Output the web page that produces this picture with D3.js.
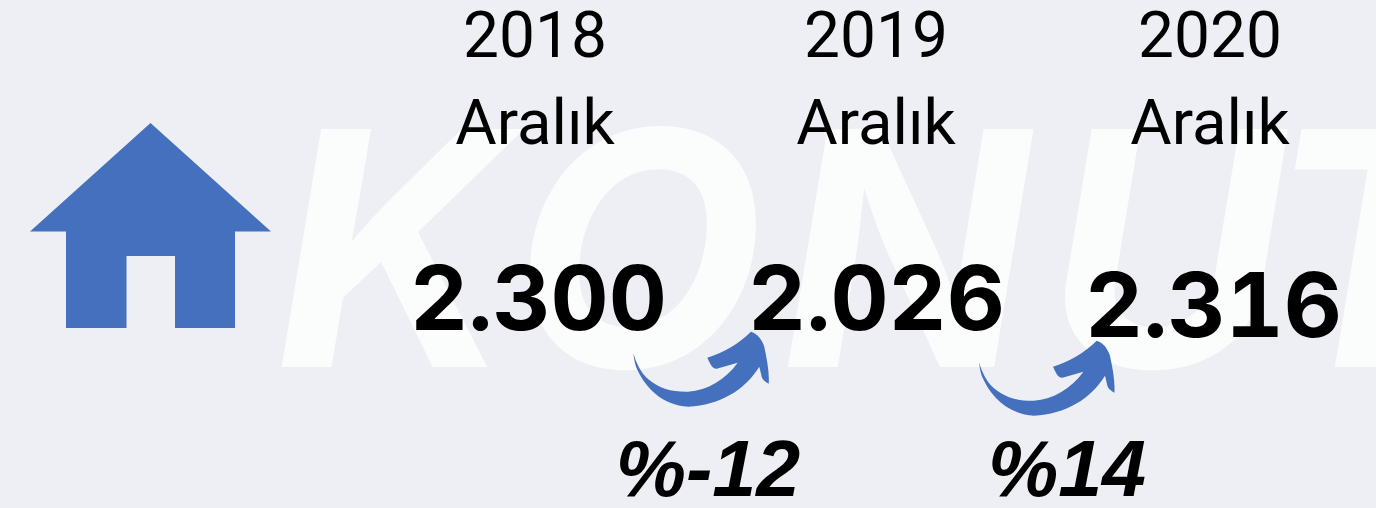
<!DOCTYPE html>
<html>
<head>
<meta charset="utf-8">
<script src="https://cdn.jsdelivr.net/npm/d3@7"></script>
<style>
    html, body {margin: 0; padding: 0; background: #eeeff4; overflow: hidden;}
    .year, .month {font-family: Roboto, sans-serif;}
    .value, .watermark {font-family: Inter, sans-serif;}
    .value {font-variant-numeric: tabular-nums; font-feature-settings: "tnum";}
    .change {font-family: "Liberation Sans", sans-serif;}
</style>
</head>
<body>
<div id="chart"></div>
<script>
const years = ["2018", "2019", "2020"];
const months = ["Aralık", "Aralık", "Aralık"];
const values = [2300, 2026, 2316];
const changes = [-12, 14];
const watermark = "KONUT";

const props = {
    width: 1376,
    height: 508,
    blue: "#4570be",
    background: "#eeeff4",
    watermark: "#fbfdfd"
};

const svg = d3.select("#chart").append("svg")
    .attr("width", props.width)
    .attr("height", props.height);

svg.append("rect")
    .attr("width", props.width)
    .attr("height", props.height)
    .attr("fill", props.background);

// column centres are not evenly spaced in the original
const headerX = d3.scaleOrdinal().domain(years).range([535, 876, 1210]);
const valueX = d3.scaleOrdinal().domain(years).range([538.5, 876.5, 1213.5]);
const valueY = d3.scaleOrdinal().domain(years).range([330, 330, 337]);
const changeX = d3.scaleOrdinal().domain(changes).range([708, 1067]);
const arrowOffset = d3.scaleOrdinal().domain(changes).range([[0, 0], [345.7, 9]]);

const formatValue = d3.formatLocale({decimal: ",", thousands: ".", grouping: [3], currency: ["₺", ""]}).format(",d");

// letters nudged one by one, the original face is spaced a bit differently
svg.append("text")
    .attr("class", "watermark")
    .attr("x", 275)
    .attr("y", 367)
    .attr("dx", "0 15 17 15 -20")
    .attr("font-size", 327)
    .attr("font-weight", 700)
    .attr("font-style", "italic")
    .attr("fill", props.watermark)
    .text(watermark);

// house icon
const houseLine = d3.line();
svg.append("path")
    .attr("fill", props.blue)
    .attr("d", houseLine([[150.5, 123], [271, 231.5], [235, 231.5], [235, 328], [175, 328], [175, 256], [126.5, 256], [126.5, 328], [66, 328], [66, 231.5], [30, 231.5]]) + "Z");

svg.selectAll(".year")
    .data(years)
    .join("text")
    .attr("class", "year")
    .attr("x", (d) => headerX(d))
    .attr("y", 57)
    .attr("text-anchor", "middle")
    .attr("font-size", 64)
    .attr("fill", "#000")
    .text((d) => d);

svg.selectAll(".month")
    .data(months)
    .join("text")
    .attr("class", "month")
    .attr("x", (d, i) => headerX(years[i]))
    .attr("y", 144)
    .attr("text-anchor", "middle")
    .attr("font-size", 63.5)
    .attr("fill", "#000")
    .text((d) => d);

svg.selectAll(".value")
    .data(values)
    .join("text")
    .attr("class", "value")
    .attr("x", (d, i) => valueX(years[i]))
    .attr("y", (d, i) => valueY(years[i]))
    .attr("text-anchor", "middle")
    .attr("font-size", 90)
    .attr("font-weight", 700)
    .attr("fill", "#000")
    .text((d) => formatValue(d));

// curved arrow, traced from the first one
const arrowPath = "M633.3,353.3 C636,362 640,372 648,379 C660,389 672,392 688,391.7 C708,390 725,380 737.7,362.7 L716.7,368.7 C712,369 710,363 707.3,357.7 C725,352 738,344 751,331.7 C758,334 762,340 764.3,346.7 C767,360 769.5,372 768.7,383.7 C764,381 762,379 761.5,376 L759.3,366.7 C745,390 720,405 688.3,406.7 C662,405 645,388 636,366.7 C634.5,362 634,358 633.3,353.3 Z";

svg.selectAll(".arrow")
    .data(changes)
    .join("path")
    .attr("class", "arrow")
    .attr("fill", props.blue)
    .attr("transform", (d) => `translate(${arrowOffset(d)[0]},${arrowOffset(d)[1]})`)
    .attr("d", arrowPath);

svg.selectAll(".change")
    .data(changes)
    .join("text")
    .attr("class", "change")
    .attr("x", (d) => changeX(d))
    .attr("y", 496)
    .attr("text-anchor", "middle")
    .attr("font-size", 79)
    .attr("font-weight", 700)
    .attr("font-style", "italic")
    .attr("fill", "#000")
    .text((d) => `%${d}`);
</script>
</body>
</html>
